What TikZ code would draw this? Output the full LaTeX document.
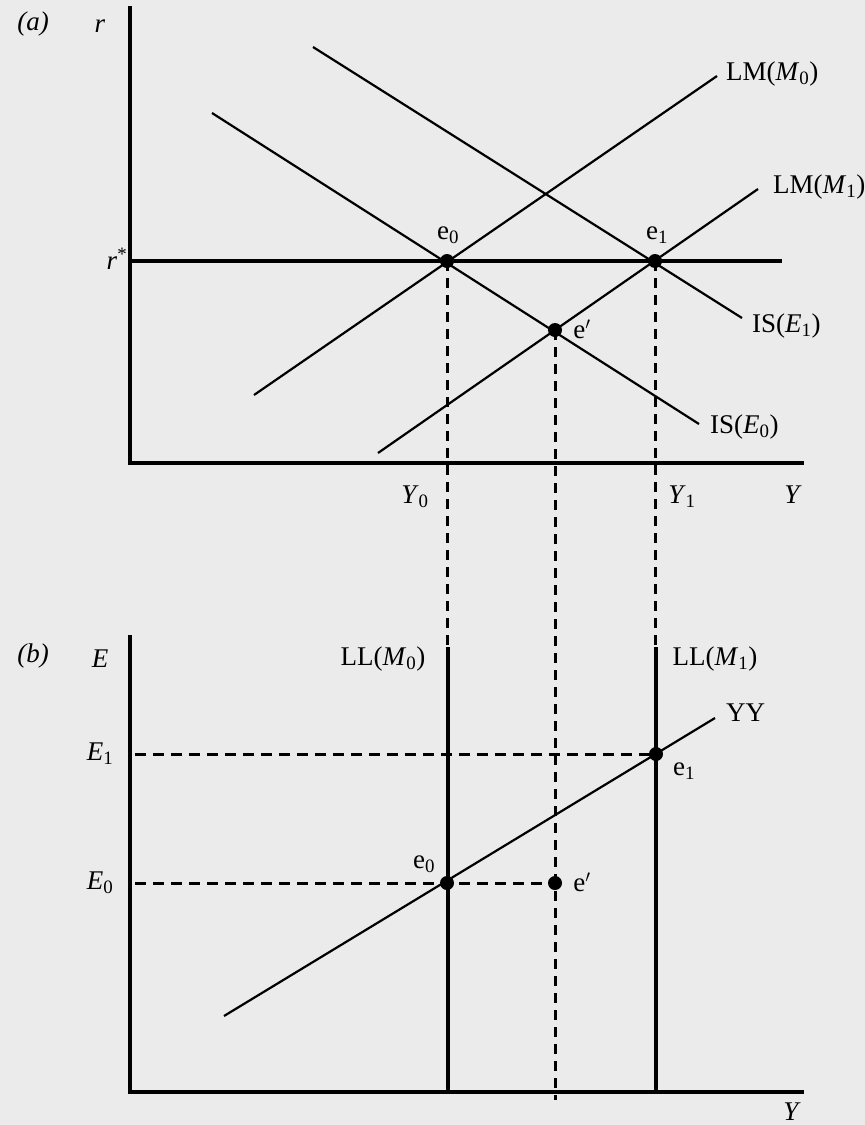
\documentclass[tikz,border=0pt]{standalone}
\usepackage{fontspec}
\setmainfont{Liberation Serif}
\begin{document}
\begin{tikzpicture}[x=1pt,y=-1pt,
  axis/.style={line width=3.2pt},
  curve/.style={line width=2.2pt},
  guide/.style={line width=3pt, dash pattern=on 10pt off 7pt},
  dot/.style={circle, fill=black, inner sep=0pt, minimum size=14pt},
  lab/.style={font=\fontsize{27}{32}\selectfont, inner sep=1pt}]
\useasboundingbox[fill={rgb,255:red,235;green,235;blue,235}] (0,0) rectangle (865,1125);
% ---------- panel (a) ----------
\coordinate (aTop) at (130,8);
\coordinate (aO) at (130,463);
\coordinate (aEnd) at (802,463);
\draw[axis, line cap=rect] (aTop) -- (aO) -- (aEnd);
\coordinate (rs0) at (130,261);
\coordinate (rs1) at (782,261);
\draw[axis] (rs0) -- (rs1);
% curves
\coordinate (lm0a) at (254,395);
\coordinate (lm0b) at (717,76);
\coordinate (lm1a) at (378,453);
\coordinate (lm1b) at (758,189);
\coordinate (is0a) at (212,113);
\coordinate (is0b) at (699,424);
\coordinate (is1a) at (313,47);
\coordinate (is1b) at (742,318);
\draw[curve] (lm0a) -- (lm0b);
\draw[curve] (lm1a) -- (lm1b);
\draw[curve] (is0a) -- (is0b);
\draw[curve] (is1a) -- (is1b);
% dots
\node[dot] (ae0) at (447,261) {};
\node[dot] (ae1) at (655,261) {};
\node[dot] (aep) at (555,330) {};
% dashed guides
\coordinate (g0) at (447,645);
\coordinate (g1) at (655,647);
\coordinate (gp) at (555,1100);
\draw[guide] (ae0.center) -- (g0);
\draw[guide] (ae1.center) -- (g1);
\draw[guide] (aep.center) -- (gp);
% labels
\node[lab] (la) at (33,24) {\textit{(a)}};
\node[lab] (lr) at (100,26) {\textit{r}};
\node[lab] (lrs) at (117,259) {\textit{r}\textsuperscript{*}};
\node[lab, anchor=west] (llm0) at (725,74) {LM(\textit{M}\textsubscript{0})};
\node[lab, anchor=west] (llm1) at (772,187) {LM(\textit{M}\textsubscript{1})};
\node[lab, anchor=west] (lis1) at (751,326) {IS(\textit{E}\textsubscript{1})};
\node[lab, anchor=west] (lis0) at (709,427) {IS(\textit{E}\textsubscript{0})};
\node[lab] (le0a) at (448,235) {e\textsubscript{0}};
\node[lab] (le1a) at (657,235) {e\textsubscript{1}};
\node[lab] (lepa) at (582,329) {e$'$};
\node[lab] (lY0) at (415,497) {\textit{Y}\textsubscript{0}};
\node[lab] (lY1) at (682,497) {\textit{Y}\textsubscript{1}};
\node[lab] (lY) at (793,495) {\textit{Y}};
% ---------- panel (b) ----------
\coordinate (bTop) at (130,637);
\coordinate (bO) at (130,1092);
\coordinate (bEnd) at (802,1092);
\draw[axis, line cap=rect] (bTop) -- (bO) -- (bEnd);
\coordinate (ll0t) at (448,647);
\coordinate (ll0b) at (448,1092);
\coordinate (ll1t) at (656,647);
\coordinate (ll1b) at (656,1092);
\draw[axis] (ll0t) -- (ll0b);
\draw[axis] (ll1t) -- (ll1b);
\coordinate (yya) at (224,1016);
\coordinate (yyb) at (715,718);
\draw[curve] (yya) -- (yyb);
\node[dot] (be0) at (447,883) {};
\node[dot] (be1) at (656,754) {};
\node[dot] (bep) at (555,883) {};
\coordinate (E1s) at (135,754);
\coordinate (E0s) at (135,883);
\draw[guide, dash pattern=on 11pt off 7pt] (E1s) -- (be1.center);
\draw[guide, dash pattern=on 11pt off 7pt] (E0s) -- (bep.center);
% labels
\node[lab] (lb) at (33,656) {\textit{(b)}};
\node[lab] (lE) at (100,659) {\textit{E}};
\node[lab] (lE1) at (100,754) {\textit{E}\textsubscript{1}};
\node[lab] (lE0) at (100,883) {\textit{E}\textsubscript{0}};
\node[lab] (lll0) at (383,659) {LL(\textit{M}\textsubscript{0})};
\node[lab] (lll1) at (715,659) {LL(\textit{M}\textsubscript{1})};
\node[lab, anchor=west] (lyy) at (725,713) {YY};
\node[lab] (le1b) at (684,771) {e\textsubscript{1}};
\node[lab] (le0b) at (424,864) {e\textsubscript{0}};
\node[lab] (lepb) at (582,882) {e$'$};
\node[lab] (lYb) at (792,1112) {\textit{Y}};
\end{tikzpicture}
\end{document}
